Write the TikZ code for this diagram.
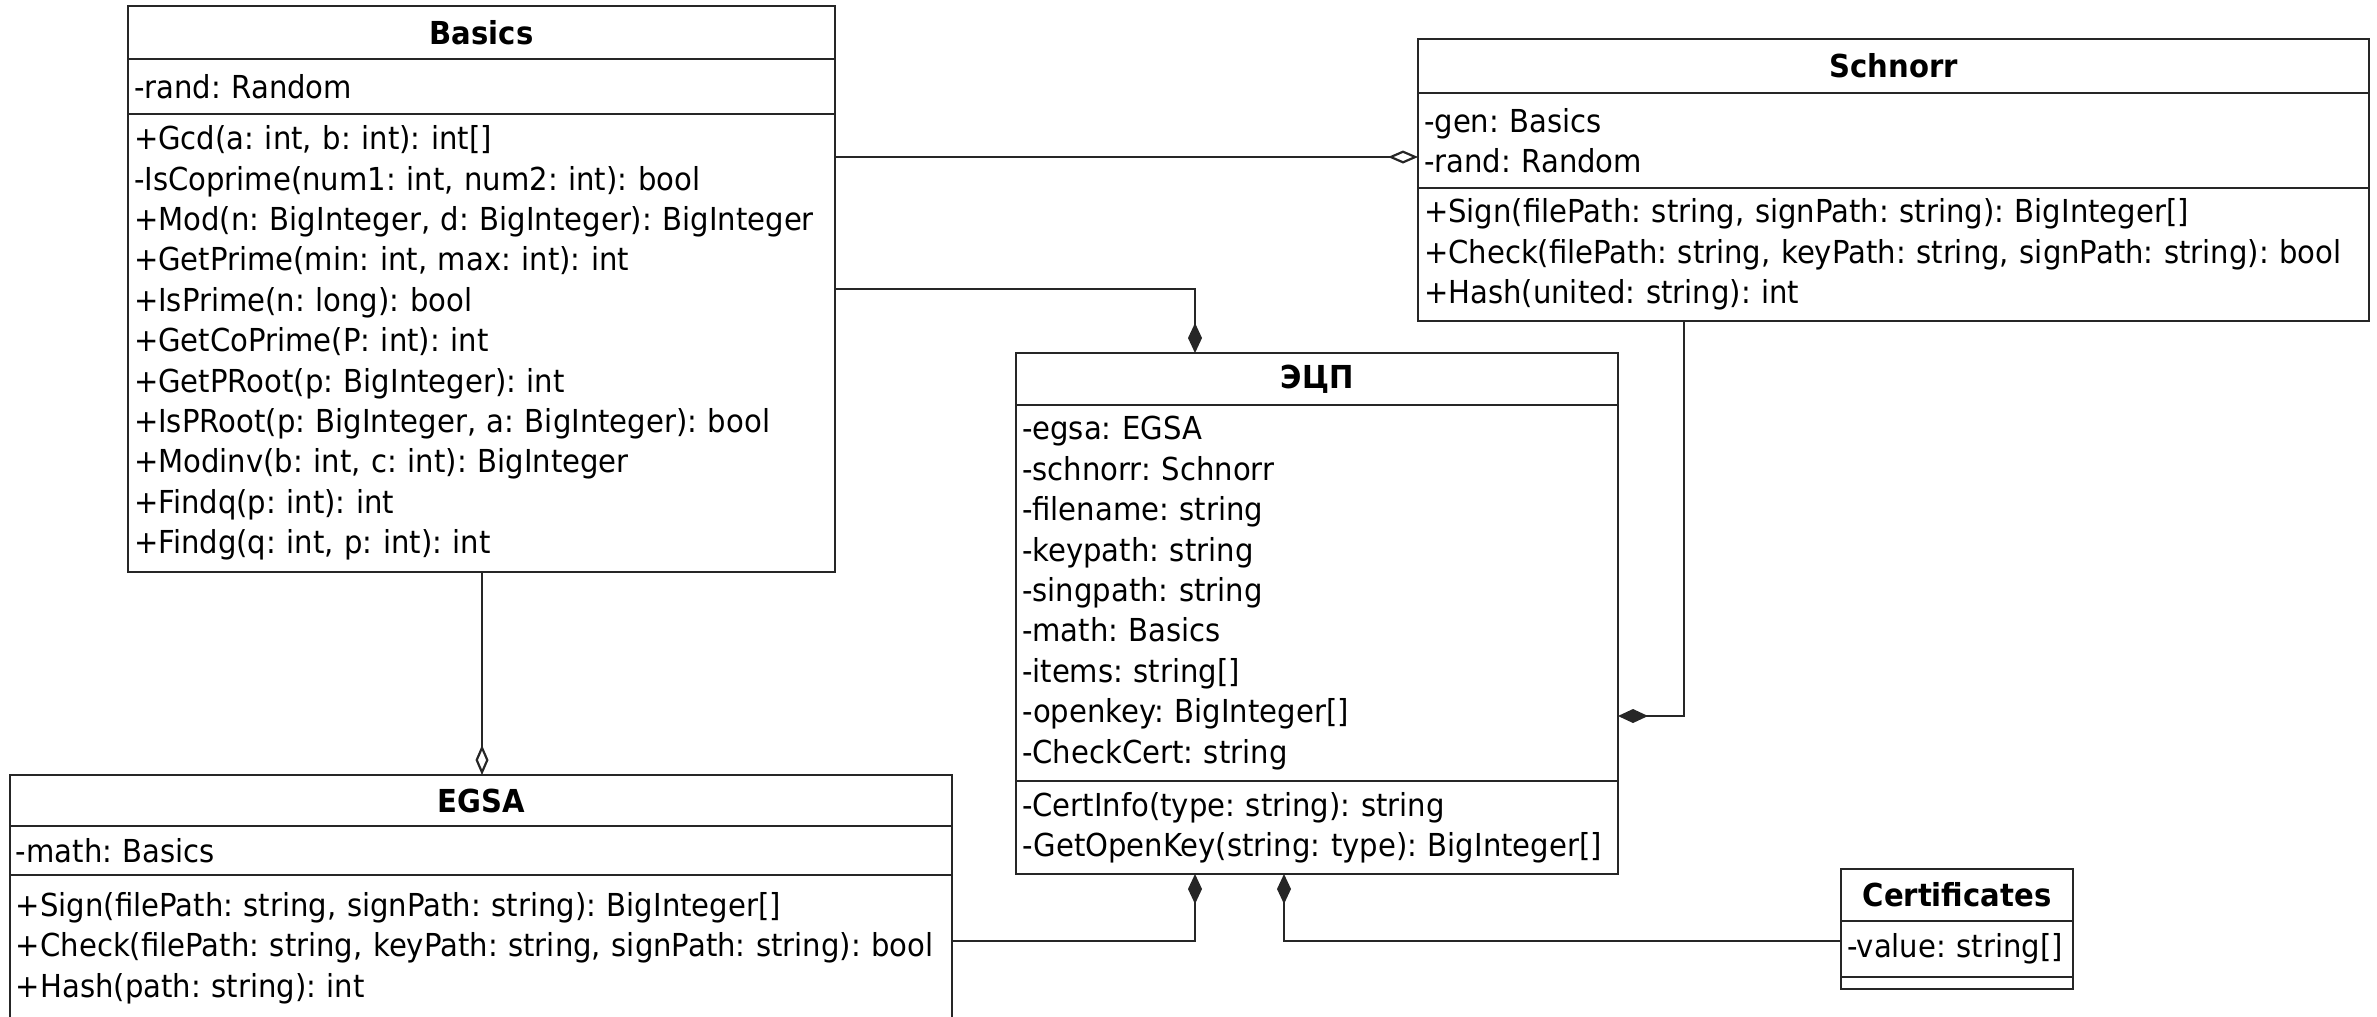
\documentclass[tikz,border=0pt]{standalone}
\usepackage{fontspec}
\setmainfont[FakeStretch=0.92]{DejaVu Sans}
\usepackage{tikz}
\usetikzlibrary{arrows.meta, positioning, calc}

\newcommand{\umlfont}{\fontsize{9pt}{11.5pt}\selectfont}
\frenchspacing

\begin{document}
\begin{tikzpicture}[x=1mm, y=-1mm, line width=0.22mm, font=\umlfont,
    part/.style={draw=black!85, anchor=north west, outer sep=0pt, inner xsep=0.6mm, inner ysep=0pt, align=left},
    head/.style={part, align=center, font=\umlfont\bfseries},
    aggr/.style={draw=black!85, -{Diamond[open, length=3mm, width=1.3mm]}},
    compo/.style={draw=black!85, -{Diamond[length=3mm, width=1.4mm]}}]
    \useasboundingbox (0,0) rectangle (237.7,101.6);
    \clip (0,0) rectangle (237.7,101.6);

    % Lớp Basics
    \node[head, text width=69.5mm, minimum height=5.3mm] (basics-t) at (12.8,0.6) {Basics};
    \node[part, below=0pt of basics-t, text width=69.5mm, minimum height=5.5mm] (basics-a) {-rand: Random};
    \node[part, below=0pt of basics-a, text width=69.5mm, minimum height=45.8mm] (basics-m) {+Gcd(a: int, b: int): int[]\\
        -IsCoprime(num1: int, num2: int): bool\\
        +Mod(n: BigInteger, d: BigInteger): BigInteger\\
        +GetPrime(min: int, max: int): int\\
        +IsPrime(n: long): bool\\
        +GetCoPrime(P: int): int\\
        +GetPRoot(p: BigInteger): int\\
        +IsPRoot(p: BigInteger, a: BigInteger): bool\\
        +Modinv(b: int, c: int): BigInteger\\
        +Findq(p: int): int\\
        +Findg(q: int, p: int): int};

    % Lớp Schnorr
    \node[head, text width=93.9mm, minimum height=5.4mm] (schnorr-t) at (141.8,3.9) {Schnorr};
    \node[part, below=0pt of schnorr-t, text width=93.9mm, minimum height=9.5mm] (schnorr-a) {-gen: Basics\\
        -rand: Random};
    \node[part, below=0pt of schnorr-a, text width=93.9mm, minimum height=13.3mm] (schnorr-m) {+Sign(filePath: string, signPath: string): BigInteger[]\\
        +Check(filePath: string, keyPath: string, signPath: string): bool\\
        +Hash(united: string): int};

    % Lớp ЭЦП
    \node[head, text width=59mm, minimum height=5.2mm] (ecp-t) at (101.6,35.3) {ЭЦП};
    \node[part, below=0pt of ecp-t, text width=59mm, minimum height=37.6mm] (ecp-a) {-egsa: EGSA\\
        -schnorr: Schnorr\\
        -filename: string\\
        -keypath: string\\
        -singpath: string\\
        -math: Basics\\
        -items: string[]\\
        -openkey: BigInteger[]\\
        -CheckCert: string};
    \node[part, below=0pt of ecp-a, text width=59mm, minimum height=9.3mm] (ecp-m) {-CertInfo(type: string): string\\
        -GetOpenKey(string: type): BigInteger[]};

    % Lớp EGSA
    \node[head, text width=93mm, minimum height=5.1mm] (egsa-t) at (1.0,77.5) {EGSA};
    \node[part, below=0pt of egsa-t, text width=93mm, minimum height=4.9mm] (egsa-a) {-math: Basics};
    \node[part, below=0pt of egsa-a, text width=93mm, minimum height=14.6mm] (egsa-m) {+Sign(filePath: string, signPath: string): BigInteger[]\\
        +Check(filePath: string, keyPath: string, signPath: string): bool\\
        +Hash(path: string): int};

    % Lớp Certificates
    \node[head, text width=22mm, minimum height=5.2mm] (cert-t) at (184.1,86.9) {Certificates};
    \node[part, below=0pt of cert-t, text width=22mm, minimum height=5.6mm] (cert-a) {-value: string[]};
    \node[part, below=0pt of cert-a, text width=22mm, minimum height=1.2mm] (cert-m) {};

    % Các liên kết
    \coordinate (ja) at (0,15.7);
    \coordinate (jb) at (119.5,28.9);
    \coordinate (js) at (168.4,71.6);
    \coordinate (jg) at (48.2,0);
    \coordinate (je) at (119.5,94.1);
    \coordinate (jc) at (128.4,94.1);

    \draw[aggr] (basics-m.east |- ja) -- (schnorr-a.west |- ja);
    \draw[compo] (basics-m.east |- jb) -| (ecp-t.north -| jb);
    \draw[compo] (schnorr-m.south -| js) |- (ecp-a.east |- js);
    \draw[aggr] (basics-m.south -| jg) -- (egsa-t.north -| jg);
    \draw[compo] (egsa-m.east |- je) -| (ecp-m.south -| je);
    \draw[compo] (cert-a.west |- jc) -| (ecp-m.south -| jc);
\end{tikzpicture}
\end{document}
